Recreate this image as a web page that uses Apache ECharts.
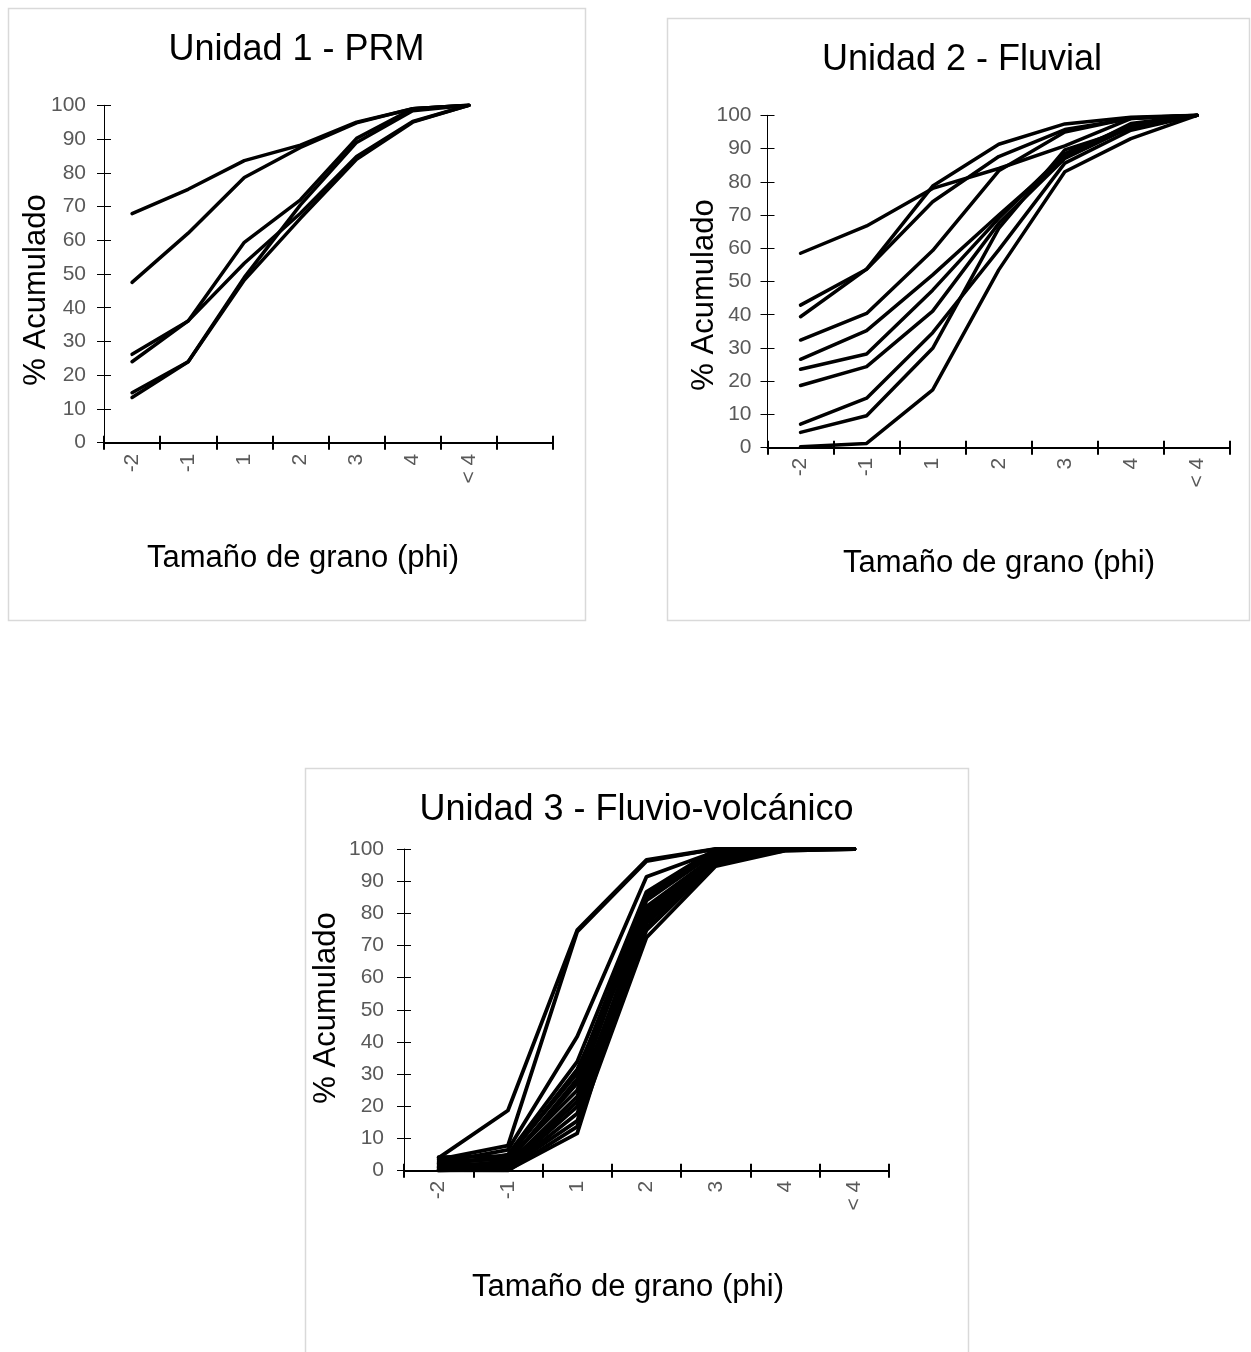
<!DOCTYPE html>
<html>
<head>
<meta charset="utf-8">
<script src="https://cdn.jsdelivr.net/npm/echarts@6/dist/echarts.min.js"></script>
<style>
html,body{margin:0;padding:0;background:#ffffff;}
#chart{width:1251px;height:1352px;}
</style>
</head>
<body>
<div id="chart"></div>
<script>
// ---------- categories (tamaño de grano, phi) ----------
const cats1 = ['-2', '-1', '1', '2', '3', '4', '< 4', ''];
const cats2 = ['-2', '-1', '1', '2', '3', '4', '< 4'];
const cats3 = ['-2', '-1', '1', '2', '3', '4', '< 4'];

// ---------- titles ----------
const titles = ['Unidad 1 - PRM', 'Unidad 2 - Fluvial', 'Unidad 3 - Fluvio-volcánico'];
const yTitle = '% Acumulado';
const xTitles = ['Tamaño de grano (phi)', 'Tamaño de grano (phi)', 'Tamaño de grano (phi)'];

// ---------- y axis ticks ----------
const yMin = 0, yMax = 100, yStep = 10;

// ---------- Unidad 1 - PRM (% acumulado) ----------
const u1a = [67.9, 75.1, 83.6, 88.2, 95.0, 99.0, 100];
const u1b = [47.5, 62.1, 78.6, 87.5, 94.8, 99.0, 100];
const u1c = [26.2, 36.1, 59.4, 72.0, 90.2, 99.0, 100];
const u1d = [24.0, 36.1, 53.2, 68.0, 84.8, 95.2, 100];
const u1e = [14.8, 24.0, 49.0, 70.5, 89.0, 98.4, 100];
const u1f = [13.4, 24.0, 48.2, 66.5, 84.0, 95.0, 100];

// ---------- Unidad 2 - Fluvial ----------
const u2a = [58.5, 66.7, 78.0, 84.0, 90.8, 99.0, 100];
const u2b = [42.9, 53.7, 78.7, 91.3, 97.4, 99.4, 100];
const u2c = [39.4, 53.7, 74.0, 87.6, 95.7, 99.0, 100];
const u2d = [32.4, 40.4, 59.3, 83.3, 95.0, 99.2, 100];
const u2e = [26.6, 35.2, 52.0, 70.0, 87.5, 97.5, 100];
const u2f = [23.6, 28.2, 47.4, 69.0, 88.5, 97.0, 100];
const u2g = [18.7, 24.4, 41.1, 67.5, 87.0, 96.5, 100];
const u2h = [7.1, 14.9, 34.6, 59.5, 85.6, 95.5, 100];
const u2i = [4.6, 9.6, 29.9, 66.0, 89.6, 96.0, 100];
const u2j = [0.3, 1.3, 17.4, 53.5, 83.0, 93.0, 100];

// ---------- Unidad 3 - Fluvio-volcánico ----------
const u3a = [4.0, 18.7, 74.8, 96.6, 100, 100, 100];
const u3b = [3.5, 7.8, 74.3, 96.2, 100, 100, 100];
const u3c = [2.5, 6.5, 41.7, 91.4, 99.2, 100, 100];
const u3d = [1.5, 5.0, 33.9, 86.7, 100, 100, 100];
const u3e = [4.2, 4.5, 30.3, 85.2, 99.5, 100, 100];
const u3f = [0.8, 3.0, 27.2, 82.1, 98.0, 100, 100];
const u3g = [2.0, 2.0, 23.0, 79.0, 97.0, 100, 100];
const u3h = [0.0, 1.0, 19.9, 76.9, 96.0, 99.5, 100];
const u3i = [1.0, 0.5, 17.8, 74.8, 95.5, 100, 100];
const u3j = [0.3, 0.0, 13.7, 72.5, 94.7, 99.5, 100];
const u3k = [0.0, 0.2, 11.6, 80.0, 97.5, 100, 100];
const u3l = [3.0, 3.5, 25.0, 84.0, 99.0, 100, 100];
const u3m = [1.2, 2.5, 28.5, 86.0, 98.5, 100, 100];
const u3n = [0.5, 1.5, 21.5, 81.0, 97.0, 100, 100];
const u3o = [2.2, 4.0, 31.5, 78.0, 96.5, 100, 100];
const u3p = [0.2, 0.8, 15.5, 75.5, 95.5, 100, 100];

const unit1 = [u1a, u1b, u1c, u1d, u1e, u1f];
const unit2 = [u2a, u2b, u2c, u2d, u2e, u2f, u2g, u2h, u2i, u2j];
const unit3 = [u3a, u3b, u3c, u3d, u3e, u3f, u3g, u3h, u3i, u3j, u3k, u3l, u3m, u3n, u3o, u3p];

// ---------- layout ----------
const FONT = "'Liberation Sans', Arial, sans-serif";
const panels = [
  { cats: cats1, data: unit1, grid: {left: 104, top: 105.3, width: 449, height: 337.4}, lw: 3.5,
    box: [8, 8, 577, 612], title: [296.5, 50.5], yT: [36, 290], xT: [303, 558], yMargin: 18, xMargin: 11 },
  { cats: cats2, data: unit2, grid: {left: 767.5, top: 115.3, width: 462.5, height: 332.4}, lw: 3.5,
    box: [667, 18, 582, 602], title: [962, 60], yT: [704, 295], xT: [999, 563], yMargin: 16, xMargin: 10 },
  { cats: cats3, data: unit3, grid: {left: 404, top: 849, width: 485, height: 321.7}, lw: 3.8,
    box: [305, 768, 663, 620], title: [636.5, 810], yT: [326, 1008], xT: [628, 1287], yMargin: 20, xMargin: 10 }
];

const grids = [], xAxes = [], yAxes = [], series = [], graphics = [];
panels.forEach((p, i) => {
  grids.push(Object.assign({containLabel: false}, p.grid));
  // primary x axis (line, outside ticks, labels)
  xAxes.push({
    type: 'category', gridIndex: i, data: p.cats, boundaryGap: true, position: 'bottom',
    axisLine: {show: true, onZero: false, lineStyle: {color: '#000', width: 2}},
    axisTick: {show: true, inside: false, length: 7, interval: 0, lineStyle: {color: '#000', width: 2}},
    axisLabel: {show: true, rotate: 90, interval: 0, margin: p.xMargin, color: '#595959', fontSize: 21, fontFamily: FONT},
    splitLine: {show: false}
  });
  // secondary x axis (inside ticks => cross tick marks)
  xAxes.push({
    type: 'category', gridIndex: i, data: p.cats, boundaryGap: true, position: 'bottom',
    axisLine: {show: false},
    axisTick: {show: true, inside: true, length: 7, interval: 0, lineStyle: {color: '#000', width: 2}},
    axisLabel: {show: false}, splitLine: {show: false}
  });
  yAxes.push({
    type: 'value', gridIndex: i, min: yMin, max: yMax, interval: yStep, position: 'left',
    axisLine: {show: true, onZero: false, lineStyle: {color: '#000', width: 1}},
    axisTick: {show: true, inside: false, length: 7, lineStyle: {color: '#000', width: 1}},
    axisLabel: {show: true, margin: p.yMargin, color: '#595959', fontSize: 21, fontFamily: FONT},
    splitLine: {show: false}
  });
  yAxes.push({
    type: 'value', gridIndex: i, min: yMin, max: yMax, interval: yStep, position: 'left',
    axisLine: {show: false},
    axisTick: {show: true, inside: true, length: 7, lineStyle: {color: '#000', width: 1}},
    axisLabel: {show: false}, splitLine: {show: false}
  });
  p.data.forEach(d => {
    series.push({
      type: 'line', xAxisIndex: 2 * i, yAxisIndex: 2 * i, data: d,
      symbol: 'none', silent: true,
      lineStyle: {color: '#000', width: p.lw, cap: 'round', join: 'round'}
    });
  });
  graphics.push({
    type: 'rect', z: -10, silent: true,
    shape: {x: p.box[0] + 0.5, y: p.box[1] + 0.5, width: p.box[2], height: p.box[3]},
    style: {fill: '#fff', stroke: '#d9d9d9', lineWidth: 1.5}
  });
  graphics.push({
    type: 'text', silent: true, x: p.title[0], y: p.title[1],
    style: {text: titles[i], fill: '#000', font: '36px ' + FONT, align: 'center', verticalAlign: 'middle'}
  });
  graphics.push({
    type: 'text', silent: true, x: p.xT[0], y: p.xT[1],
    style: {text: xTitles[i], fill: '#000', font: '31px ' + FONT, align: 'center', verticalAlign: 'middle'}
  });
  graphics.push({
    type: 'text', silent: true, x: p.yT[0], y: p.yT[1], rotation: Math.PI / 2,
    style: {text: yTitle, fill: '#000', font: '31px ' + FONT, align: 'center', verticalAlign: 'middle'}
  });
});

const chart = echarts.init(document.getElementById('chart'), null, {renderer: 'canvas'});
chart.setOption({
  backgroundColor: '#ffffff',
  animation: false,
  grid: grids,
  xAxis: xAxes,
  yAxis: yAxes,
  series: series,
  graphic: graphics
});
</script>
</body>
</html>
